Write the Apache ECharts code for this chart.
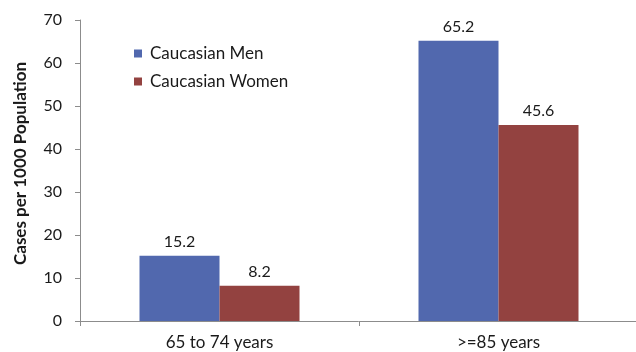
<!DOCTYPE html>
<html>
<head>
<meta charset="utf-8">
<script src="https://cdn.jsdelivr.net/npm/echarts@6/dist/echarts.min.js"></script>
<style>
  html, body { margin: 0; padding: 0; background: #fff; }
  #chart { width: 636px; height: 352px; }
</style>
</head>
<body>
<div id="chart"></div>
<script>
// Age groups and incidence per 1000 population
const categories = ['65 to 74 years', '>=85 years'];
const menValues = [15.2, 65.2];
const womenValues = [8.2, 45.6];
const yTicks = { min: 0, max: 70, interval: 10 };

const font = 'Lato, "Open Sans", sans-serif';
const axisGray = '#8c8c8c';
const textColor = '#1a1a1a';

const chart = echarts.init(document.getElementById('chart'), null, { renderer: 'canvas' });

const barLabel = {
  show: true,
  position: 'top',
  distance: 6,
  color: textColor,
  fontSize: 16,
  fontFamily: font
};

chart.setOption({
  animation: false,
  textStyle: { fontFamily: font },
  grid: {
    left: 80, top: 20, width: 558, height: 301,
    containLabel: false,
    outerBoundsMode: 'none'
  },
  legend: {
    orient: 'vertical',
    left: 134,
    top: 45,
    padding: 0,
    itemWidth: 8,
    itemHeight: 8,
    itemGap: 11,
    icon: 'rect',
    textStyle: { fontSize: 17, color: textColor, fontFamily: font, padding: [0, 0, 0, 3] },
    data: ['Caucasian Men', 'Caucasian Women']
  },
  xAxis: {
    type: 'category',
    data: categories,
    boundaryGap: true,
    axisLine: { lineStyle: { color: axisGray, width: 1 } },
    axisTick: { show: true, length: 5, lineStyle: { color: axisGray } },
    axisLabel: { color: textColor, fontSize: 17, margin: 13, fontFamily: font }
  },
  yAxis: {
    type: 'value',
    min: yTicks.min,
    max: yTicks.max,
    interval: yTicks.interval,
    name: 'Cases per 1000 Population',
    nameLocation: 'middle',
    nameGap: 51,
    nameTextStyle: { fontSize: 17, fontWeight: 'bold', color: textColor, fontFamily: font, padding: [0, 0, 0, 14] },
    axisLine: { show: true, lineStyle: { color: axisGray, width: 1 } },
    axisTick: { show: true, length: 5, lineStyle: { color: axisGray } },
    axisLabel: { color: textColor, fontSize: 16, margin: 18, fontFamily: font },
    splitLine: { show: false }
  },
  series: [
    {
      name: 'Caucasian Men',
      type: 'bar',
      data: menValues,
      barWidth: 80,
      barGap: '0%',
      itemStyle: { color: '#5168AE' },
      label: barLabel
    },
    {
      name: 'Caucasian Women',
      type: 'bar',
      data: womenValues,
      barWidth: 80,
      barGap: '0%',
      itemStyle: { color: '#934240' },
      label: barLabel
    }
  ]
});
</script>
</body>
</html>
